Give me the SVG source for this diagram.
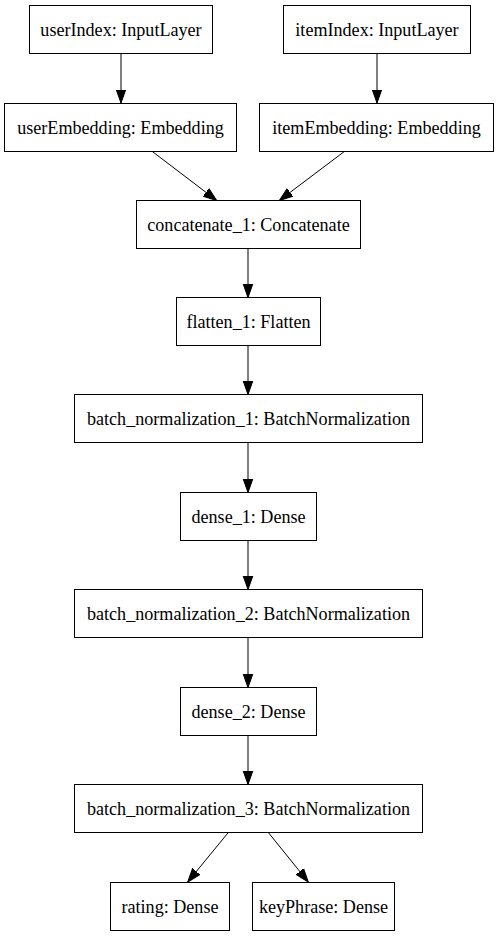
<svg xmlns="http://www.w3.org/2000/svg" width="499" height="936" viewBox="0 0 499 936">
<style>
.box{fill:#fff;stroke:#000;stroke-width:1}
.lbl{font-family:"Liberation Serif","Times New Roman",serif;font-size:18.1px;fill:#000;text-anchor:middle}
.edge{stroke:#000;stroke-width:1;fill:none;marker-end:url(#ah)}
</style>
<defs>
<marker id="ah" markerUnits="userSpaceOnUse" viewBox="0 -6 15 12" markerWidth="15" markerHeight="12" refX="13.5" refY="0" orient="auto">
<path d="M0,-4.8 L13.5,0 L0,4.8 Z" fill="#000" stroke="#000" stroke-width="1"/>
</marker>
</defs>
<rect width="499" height="936" fill="#fff"/>
<g id="connectors">
<line class="edge" x1="121" y1="53.5" x2="121" y2="103"/>
<line class="edge" x1="377" y1="53.5" x2="377" y2="103"/>
<line class="edge" x1="151.7" y1="151" x2="216.7" y2="200.5"/>
<line class="edge" x1="345" y1="151" x2="279.3" y2="200.5"/>
<line class="edge" x1="248" y1="248.5" x2="248" y2="297.5"/>
<line class="edge" x1="248" y1="345.5" x2="248" y2="394.5"/>
<line class="edge" x1="248" y1="442.5" x2="248" y2="492.5"/>
<line class="edge" x1="248" y1="540.5" x2="248" y2="589.5"/>
<line class="edge" x1="248" y1="637.5" x2="248" y2="687.5"/>
<line class="edge" x1="248" y1="735.5" x2="248" y2="784.5"/>
<line class="edge" x1="228.3" y1="832.5" x2="187.7" y2="882"/>
<line class="edge" x1="268.3" y1="832.5" x2="308.3" y2="882"/>
</g>
<g id="userIndex"><rect class="box" x="29.5" y="5.5" width="183" height="48"/><text class="lbl" x="121" y="35.5">userIndex: InputLayer</text></g>
<g id="itemIndex"><rect class="box" x="283.5" y="5.5" width="187" height="48"/><text class="lbl" x="377" y="35.5">itemIndex: InputLayer</text></g>
<g id="userEmbedding"><rect class="box" x="4.5" y="103.5" width="232" height="48"/><text class="lbl" x="120.5" y="133.5">userEmbedding: Embedding</text></g>
<g id="itemEmbedding"><rect class="box" x="259.5" y="103.5" width="234" height="48"/><text class="lbl" x="376.5" y="133.5">itemEmbedding: Embedding</text></g>
<g id="concatenate_1"><rect class="box" x="136.5" y="200.5" width="224" height="48"/><text class="lbl" x="248.5" y="230.5">concatenate_1: Concatenate</text></g>
<g id="flatten_1"><rect class="box" x="176.5" y="297.5" width="144" height="48"/><text class="lbl" x="248.5" y="327.5">flatten_1: Flatten</text></g>
<g id="batch_normalization_1"><rect class="box" x="74.5" y="394.5" width="348" height="48"/><text class="lbl" x="248.5" y="424.5">batch_normalization_1: BatchNormalization</text></g>
<g id="dense_1"><rect class="box" x="180.5" y="492.5" width="136" height="48"/><text class="lbl" x="248.5" y="522.5">dense_1: Dense</text></g>
<g id="batch_normalization_2"><rect class="box" x="74.5" y="589.5" width="348" height="48"/><text class="lbl" x="248.5" y="619.5">batch_normalization_2: BatchNormalization</text></g>
<g id="dense_2"><rect class="box" x="180.5" y="687.5" width="136" height="48"/><text class="lbl" x="248.5" y="717.5">dense_2: Dense</text></g>
<g id="batch_normalization_3"><rect class="box" x="74.5" y="784.5" width="348" height="48"/><text class="lbl" x="248.5" y="814.5">batch_normalization_3: BatchNormalization</text></g>
<g id="rating"><rect class="box" x="110.5" y="882.5" width="119" height="48"/><text class="lbl" x="170" y="912.5">rating: Dense</text></g>
<g id="keyPhrase"><rect class="box" x="252.5" y="882.5" width="142" height="48"/><text class="lbl" x="323.5" y="912.5">keyPhrase: Dense</text></g>
</svg>
